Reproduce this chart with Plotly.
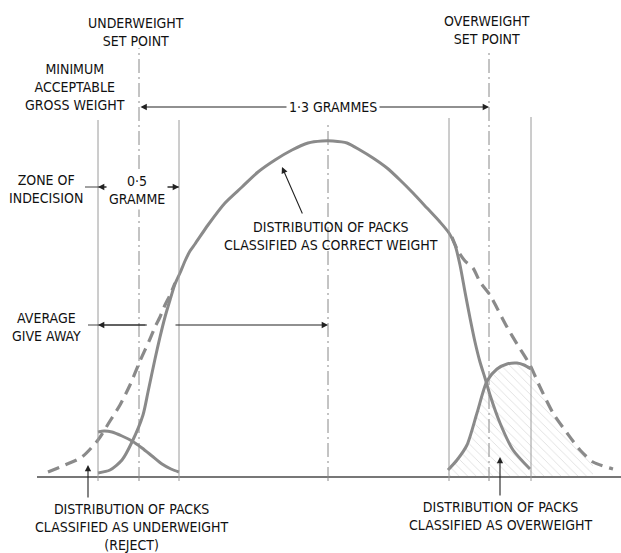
import plotly.graph_objects as go

# ---- data (x: weight scale, arbitrary units; y: relative number of packs) ----
total_left_x = [48, 65, 82, 98, 110, 120, 130, 140, 150, 155, 160, 165, 170, 175]
total_left_y = [5, 12, 20, 37, 56, 72, 92, 116, 138, 150, 160, 172, 182, 194]
total_right_x = [452, 458, 465, 473, 480, 490, 497, 507, 517, 530, 540, 553, 567, 580, 593, 613]
total_right_y = [240, 226, 216, 209, 195, 182, 169, 150, 133, 112, 90, 64, 44, 27, 15, 8]

correct_x = [98, 110, 122, 132, 143, 148, 155, 160, 165, 170, 175, 180, 185, 190, 195, 208, 225,
             242, 258, 275, 292, 308, 322, 333, 347, 360, 373, 387, 400, 413, 427, 440, 449,
             455, 460, 465, 470, 475, 480, 485, 490, 500, 513, 530]
correct_y = [4, 7, 17, 35, 62, 85, 118, 140, 160, 177, 193, 204, 216, 226, 233, 252, 274,
             290, 305, 317, 327, 334, 336, 336, 334, 327, 319, 309, 297, 284, 269, 255, 244,
             232, 212, 185, 159, 135, 115, 99, 82, 54, 27, 8]

under_x = [98, 104, 112, 122, 132, 142, 152, 162, 171, 179]
under_y = [45, 46, 45, 41, 36, 29, 21, 13, 8, 5]

over_x = [448, 457, 467, 477, 487, 497, 507, 517, 524, 531]
over_y = [7, 17, 32, 64, 96, 108, 113, 114, 112, 108]

# reference weights (vertical lines)
MIN_ACCEPT = 98
UNDER_SET = 139
ZONE_HI = 179
MEAN = 328
OVER_LO = 449
OVER_SET = 489
OVER_HI = 531

CURVE = "#8a8a8a"
THIN = "#9a9a9a"
INK = "#111111"
FONT = "Liberation Sans Narrow, DejaVu Sans Condensed, Arial Narrow, sans-serif"

fig = go.Figure()

# hatched area: packs classified as overweight
hx = list(over_x) + [x for x in total_right_x if OVER_HI < x <= 593] + [593, over_x[0]]
hy = list(over_y) + [y for x, y in zip(total_right_x, total_right_y) if OVER_HI < x <= 593] + [0, 0]
fig.add_trace(go.Scatter(x=hx, y=hy, mode="lines", fill="toself", line=dict(width=0),
                         fillcolor="rgba(0,0,0,0)",
                         fillpattern=dict(shape="\\", fgcolor="#b0b0b0", bgcolor="rgba(0,0,0,0)",
                                          size=6, solidity=0.12),
                         hoverinfo="skip"))

# total distribution (dashed tails)
fig.add_trace(go.Scatter(x=total_left_x + [None] + total_right_x,
                         y=total_left_y + [None] + total_right_y,
                         mode="lines", line=dict(color=CURVE, width=3.2, dash="12px,7px",
                                                  shape="spline", smoothing=0.7)))
# correct weight
fig.add_trace(go.Scatter(x=correct_x, y=correct_y, mode="lines",
                         line=dict(color=CURVE, width=3, shape="spline", smoothing=0.7)))
# underweight
fig.add_trace(go.Scatter(x=under_x, y=under_y, mode="lines",
                         line=dict(color=CURVE, width=3, shape="spline", smoothing=0.7)))
# overweight
fig.add_trace(go.Scatter(x=over_x, y=over_y, mode="lines",
                         line=dict(color=CURVE, width=3, shape="spline", smoothing=0.7)))

shapes = []
# baseline
shapes.append(dict(type="line", x0=37, x1=621, y0=0, y1=0, line=dict(color="#777", width=2)))
# solid vertical lines
for xv, top in [(MIN_ACCEPT, 357), (ZONE_HI, 357), (OVER_LO, 359), (OVER_HI, 360)]:
    shapes.append(dict(type="line", x0=xv, x1=xv, y0=-4, y1=top, line=dict(color=THIN, width=1)))
# dash-dot vertical lines
for xv, top in [(UNDER_SET, 429), (MEAN, 355), (OVER_SET, 427)]:
    shapes.append(dict(type="line", x0=xv, x1=xv, y0=-4, y1=top,
                       line=dict(color="#888", width=1, dash="14px,4px,2px,4px")))
# dimension lines
shapes.append(dict(type="line", x0=85, x1=ZONE_HI, y0=290, y1=290, line=dict(color="#444", width=1)))
shapes.append(dict(type="line", x0=88, x1=147, y0=152, y1=152, line=dict(color="#444", width=1)))

ann = []
def arrow(tx, ty, fx, fy, side="end"):
    ann.append(dict(x=tx, y=ty, ax=fx, ay=fy, xref="x", yref="y", axref="x", ayref="y",
                    text="", showarrow=True, arrowhead=2, arrowsize=1.15, arrowwidth=1.1,
                    arrowcolor="#222", standoff=0, startstandoff=0, arrowside=side))

arrow(OVER_SET, 370, UNDER_SET, 370, side="end+start")
arrow(MIN_ACCEPT, 290, 120, 290)
arrow(ZONE_HI, 290, 155, 290)
arrow(MIN_ACCEPT, 152, 147, 152)
arrow(MEAN, 152, 174, 152)
arrow(282, 310, 303, 262)
arrow(88, 12, 88, -22)
arrow(500, 20, 500, -20)

def label(x, y, t, bg=None):
    d = dict(x=x, y=y, xref="x", yref="y", text=t, showarrow=False,
             font=dict(family=FONT, size=14, color=INK), align="center",
             xanchor="center", yanchor="middle")
    if bg:
        d["bgcolor"] = bg
        d["borderpad"] = 2
    ann.append(d)

label(136, 445, "UNDERWEIGHT<br>SET POINT")
label(487, 447, "OVERWEIGHT<br>SET POINT")
label(75, 390, "MINIMUM<br>ACCEPTABLE<br>GROSS WEIGHT")
label(333, 370, "1·3 GRAMMES", bg="white")
label(46, 288, "ZONE OF<br>INDECISION")
label(137, 287, "0·5<br>GRAMME", bg="white")
label(46, 150, "AVERAGE<br>GIVE AWAY")
label(331, 241, "DISTRIBUTION OF PACKS<br>CLASSIFIED AS CORRECT WEIGHT")
label(132, -50, "DISTRIBUTION OF PACKS<br>CLASSIFIED AS UNDERWEIGHT<br>(REJECT)")
label(500, -39, "DISTRIBUTION OF PACKS<br>CLASSIFIED AS OVERWEIGHT")

fig.update_layout(
    width=621, height=553, margin=dict(l=0, r=0, t=0, b=0),
    paper_bgcolor="white", plot_bgcolor="white", showlegend=False,
    xaxis=dict(range=[0, 621], visible=False, fixedrange=True),
    yaxis=dict(range=[-76, 477], visible=False, fixedrange=True),
    shapes=shapes, annotations=ann,
)

fig.write_html("out.html", config={"displayModeBar": False},
               post_script="document.body.style.margin='0';document.body.style.overflow='hidden';")
